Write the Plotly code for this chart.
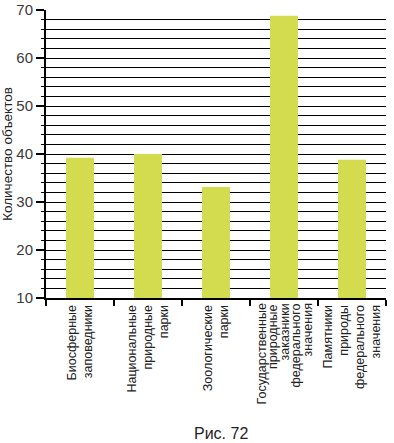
import plotly.graph_objects as go

categories = [
    "Биосферные<br>заповедники",
    "Национальные<br>природные<br>парки",
    "Зоологические<br>парки",
    "Государственные<br>природные<br>заказники<br>федерального<br>значения",
    "Памятники<br>природы<br>федерального<br>значения",
]
values = [39.2, 40.0, 33.1, 68.8, 38.8]
y_title = "Количество объектов"
caption = "Рис. 72"

# the long label is drawn with tighter leading, as in the reference
tight_idx = 3
tick_text = ["" if i == tight_idx else c for i, c in enumerate(categories)]
tight_lines = categories[tight_idx].split("<br>")
LABEL_FONT = dict(size=12.5, color="#222", family="Liberation Sans, Arial, sans-serif")

fig = go.Figure()
fig.add_trace(go.Bar(x=categories, y=values, marker=dict(color="#d3db4e", line=dict(width=0)),
                     width=0.41, hoverinfo="skip"))

annotations = []
n = len(tight_lines)
for k, line in enumerate(tight_lines):
    annotations.append(dict(
        text=line, x=categories[tight_idx], xref="x", y=0, yref="paper",
        xanchor="center", yanchor="top", textangle=-90, showarrow=False,
        xshift=(k - (n - 1) / 2) * 11.5, yshift=-4, font=LABEL_FONT,
    ))
annotations.append(dict(text=caption, xref="paper", yref="paper", x=0.515, y=0, yshift=-135,
                        yanchor="middle", showarrow=False, font=dict(size=16, color="#222")))

fig.update_layout(
    width=394, height=443,
    margin=dict(l=46, r=8, t=10, b=145),
    paper_bgcolor="white", plot_bgcolor="white",
    font=dict(family="Liberation Sans, Arial, sans-serif", color="#222"),
    showlegend=False,
    xaxis=dict(
        type="category",
        automargin=False,
        tickmode="array", tickvals=categories, ticktext=tick_text,
        tickangle=-90,
        tickfont=LABEL_FONT,
        ticks="outside", tickson="boundaries", ticklen=6, tickwidth=1.5, tickcolor="black",
        showline=True, linecolor="black", linewidth=2,
        showgrid=False,
    ),
    yaxis=dict(
        automargin=False,
        range=[10, 70],
        dtick=10, tick0=10,
        tickfont=dict(size=15, color="#3a3a3a"),
        ticks="outside", ticklen=8, tickwidth=1.5, tickcolor="black",
        showline=True, linecolor="black", linewidth=2,
        showgrid=True, gridcolor="black", gridwidth=1.3,
        zeroline=False,
        title=dict(text=y_title, font=dict(size=13.5, color="#222")),
        minor=dict(dtick=2, tick0=10, showgrid=True, gridcolor="black", gridwidth=1.3,
                   ticks="outside", ticklen=3, tickcolor="black", tickwidth=1),
    ),
    annotations=annotations,
)
fig.write_html("out.html", config={"displayModeBar": False},
               post_script="document.body.style.margin='0';document.body.style.overflow='hidden';")
